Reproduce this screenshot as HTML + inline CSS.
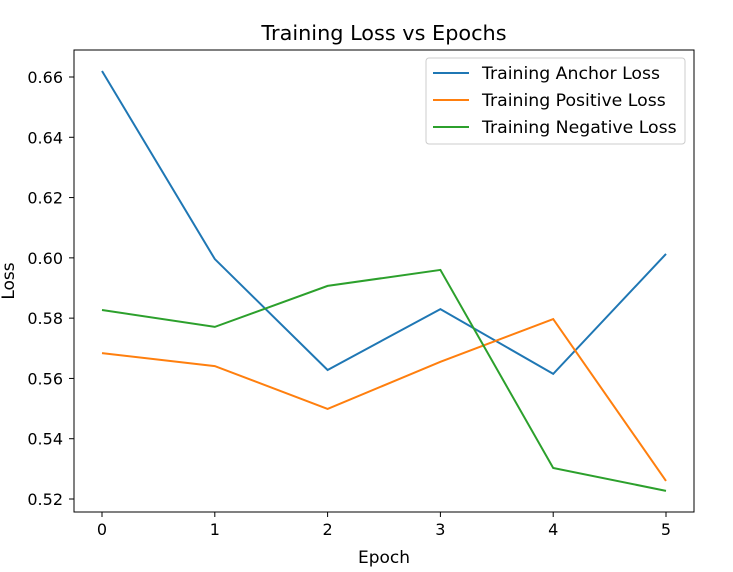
<!DOCTYPE html>
<html><head><meta charset="utf-8"><style>
body{margin:0;background:#fff;}
svg{display:block;font-family:"DejaVu Sans","Liberation Sans",sans-serif;}
</style></head><body>
<svg id="chart" width="733" height="572">
<rect width="733" height="572" fill="#fff"/>
<text x="384" y="40" text-anchor="middle" font-size="20.8">Training Loss vs Epochs</text>
<g id="ticks"></g>
<g id="lines"></g>
<rect x="74" y="50" width="620" height="462" fill="none" stroke="#000" stroke-width="1"/>
<text x="384" y="563" text-anchor="middle" font-size="17">Epoch</text>
<text transform="translate(14,281) rotate(-90)" text-anchor="middle" font-size="17">Loss</text>
<g id="legend"></g>
</svg>
<script>
const epochs=[0,1,2,3,4,5];
const anchorLoss=[0.662,0.5996,0.5628,0.583,0.5615,0.6013];
const positiveLoss=[0.5684,0.5641,0.5499,0.5655,0.5797,0.526];
const negativeLoss=[0.5827,0.5771,0.5907,0.596,0.5303,0.5227];
const yTicks=[0.52,0.54,0.56,0.58,0.60,0.62,0.64,0.66];
const seriesNames=["Training Anchor Loss","Training Positive Loss","Training Negative Loss"];
const colors=["#1f77b4","#ff7f0e","#2ca02c"];
const NS="http://www.w3.org/2000/svg";
function xs(v){return 102+v*112.8;}
function ys(v){return 77+(0.66-v)*3014.3;}
function mk(t,a,p){const e=document.createElementNS(NS,t);for(const k in a)e.setAttribute(k,a[k]);p.appendChild(e);return e;}
const tg=document.getElementById('ticks');
epochs.forEach(e=>{
 const l=mk('line',{x1:xs(e),x2:xs(e),y1:512,y2:517,stroke:'#000'},tg);
 
 
 const t=mk('text',{x:xs(e),y:535,'text-anchor':'middle','font-size':16},tg);t.textContent=e;
 
 
});
yTicks.forEach(v=>{
 const l=mk('line',{x1:69,x2:74,y1:ys(v),y2:ys(v),stroke:'#000'},tg);
 
 
 const t=mk('text',{x:63,y:ys(v)+6,'text-anchor':'end','font-size':16},tg);t.textContent=v.toFixed(2);
 
 
});
const lg=document.getElementById('lines');
[anchorLoss,positiveLoss,negativeLoss].forEach((s,i)=>{
 const p=mk('polyline',{points:s.map((v,j)=>xs(epochs[j])+','+ys(v)).join(' '),fill:'none',stroke:colors[i],'stroke-width':2},lg);
 
 
});
const leg=document.getElementById('legend');
const box=mk('rect',{x:426,y:58,width:259,height:86,fill:'#fff',stroke:'#ccc',rx:3},leg);


seriesNames.forEach((n,i)=>{
 const y=73+i*27;
 mk('line',{x1:433,x2:469,y1:y,y2:y,stroke:colors[i],'stroke-width':2},leg);
 const t=mk('text',{x:482,y:y+6,'font-size':17.3},leg);t.textContent=n;
 
 
});
</script>
</body></html>
